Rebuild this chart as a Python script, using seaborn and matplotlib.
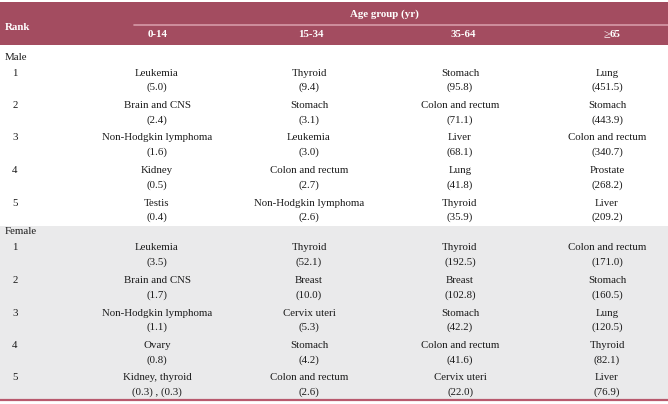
import matplotlib.pyplot as plt
import seaborn as sns

# Table content
age_groups = ["0-14", "15-34", "35-64", "\u226565"]
ranks = [1, 2, 3, 4, 5]

male_sites = [
    ["Leukemia", "Thyroid", "Stomach", "Lung"],
    ["Brain and CNS", "Stomach", "Colon and rectum", "Stomach"],
    ["Non-Hodgkin lymphoma", "Leukemia", "Liver", "Colon and rectum"],
    ["Kidney", "Colon and rectum", "Lung", "Prostate"],
    ["Testis", "Non-Hodgkin lymphoma", "Thyroid", "Liver"],
]
male_rates = [
    [5.0, 9.4, 95.8, 451.5],
    [2.4, 3.1, 71.1, 443.9],
    [1.6, 3.0, 68.1, 340.7],
    [0.5, 2.7, 41.8, 268.2],
    [0.4, 2.6, 35.9, 209.2],
]

female_sites = [
    ["Leukemia", "Thyroid", "Thyroid", "Colon and rectum"],
    ["Brain and CNS", "Breast", "Breast", "Stomach"],
    ["Non-Hodgkin lymphoma", "Cervix uteri", "Stomach", "Lung"],
    ["Ovary", "Stomach", "Colon and rectum", "Thyroid"],
    ["Kidney, thyroid", "Colon and rectum", "Cervix uteri", "Liver"],
]
female_rates = [
    [3.5, 52.1, 192.5, 171.0],
    [1.7, 10.0, 102.8, 160.5],
    [1.1, 5.3, 42.2, 120.5],
    [0.8, 4.2, 41.6, 82.1],
    [(0.3, 0.3), 2.6, 22.0, 76.9],
]

sns.set_theme(style="white")
plt.rcParams['font.family'] = ['Liberation Serif', 'DejaVu Serif']

header_color = '#A34C60'
grey_color = '#EAEAEB'
text_color = '#1a1a1a'
fs = 7.8

fig = plt.figure(figsize=(6.68, 4.04), dpi=100)
ax = fig.add_axes([0, 0, 1, 1])
ax.set_xlim(0, 668)
ax.set_ylim(404, 0)
ax.axis('off')

# Bands
ax.axhspan(1.5, 45, color=header_color, lw=0)
ax.plot([134, 668], [24.5, 24.5], color='#D69AA8', lw=1.2)
ax.axhspan(226, 399, color=grey_color, lw=0)
ax.plot([0, 668], [400, 400], color='#B8596D', lw=1.6)

# Header
ax.text(5, 27, "Rank", color='white', fontweight='bold', fontsize=fs,
        ha='left', va='center')
ax.text(384, 14, "Age group (yr)", color='white', fontweight='bold',
        fontsize=fs, ha='center', va='center')
col_x = [157, 309, 460, 607]
head_x = [158, 311, 463, 611]
for x, g in zip(head_x, age_groups):
    if g.startswith("\u2265"):
        # the sign is set in regular weight, the number in bold
        ax.text(x - 1, 34.5, g[0], color='white', fontsize=fs + 1,
                ha='right', va='center')
        ax.text(x - 1, 34.5, g[1:], color='white', fontweight='bold',
                fontsize=fs, ha='left', va='center')
    else:
        ax.text(x, 34.5, g, color='white', fontweight='bold', fontsize=fs,
                ha='center', va='center')


def fmt(v):
    if isinstance(v, tuple):
        return " , ".join(f"({a:.1f})" for a in v)
    return f"({v:.1f})"


def draw_block(label, label_y, first_y, sites, rates):
    ax.text(5, label_y, label, fontsize=fs, ha='left', va='center',
            color=text_color)
    for i, r in enumerate(ranks):
        y = first_y + i * 32.5
        ax.text(15, y, str(r), fontsize=fs, ha='center', va='center',
                color=text_color)
        for j, x in enumerate(col_x):
            ax.text(x, y, sites[i][j], fontsize=fs, ha='center',
                    va='center', color=text_color)
            ax.text(x, y + 14.5, fmt(rates[i][j]), fontsize=fs,
                    ha='center', va='center', color=text_color)


draw_block("Male", 57, 73, male_sites, male_rates)
draw_block("Female", 232, 248, female_sites, female_rates)

fig.savefig('out.png', dpi=100)
